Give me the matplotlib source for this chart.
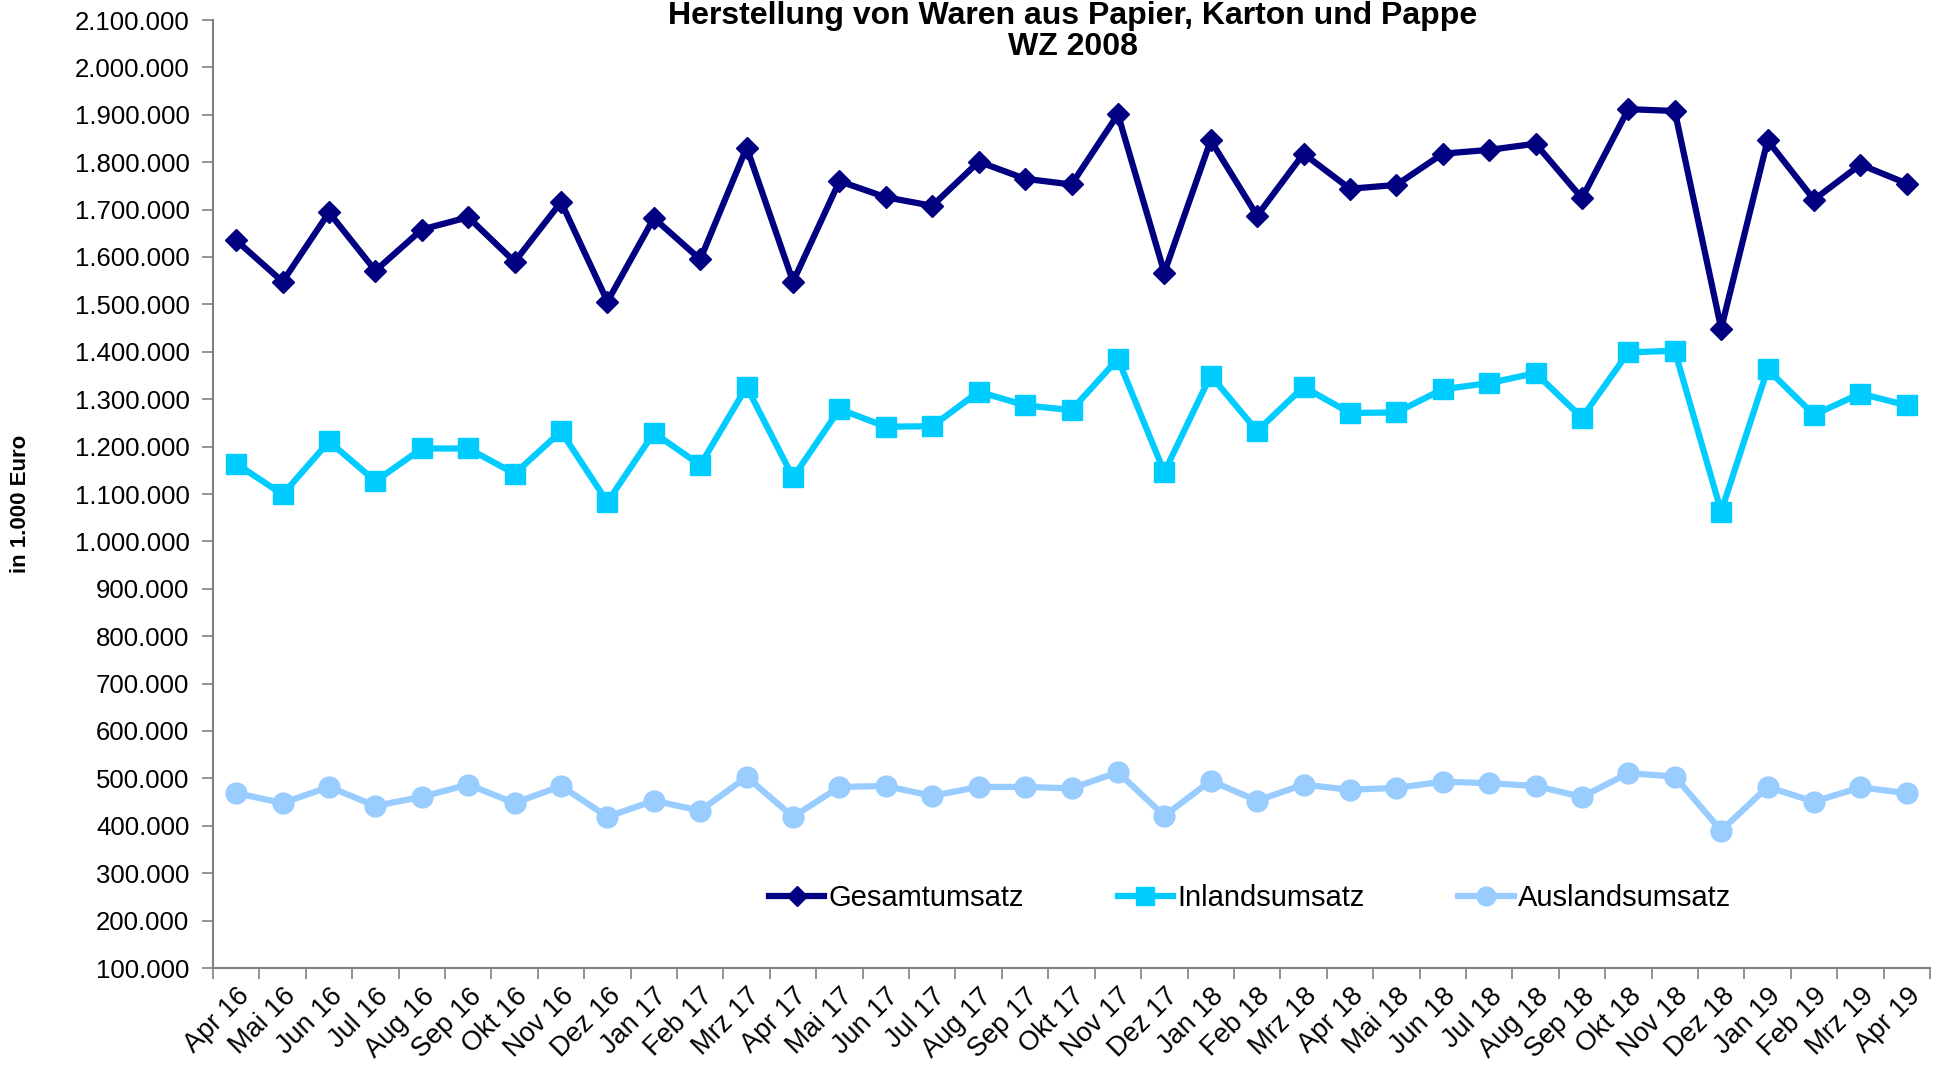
import matplotlib
matplotlib.use("Agg")
import matplotlib.pyplot as plt
from matplotlib.ticker import FuncFormatter, FixedLocator
import numpy as np

plt.rcParams['font.family'] = ['Liberation Sans', 'DejaVu Sans']

monate = ['Apr 16', 'Mai 16', 'Jun 16', 'Jul 16', 'Aug 16', 'Sep 16', 'Okt 16', 'Nov 16', 'Dez 16',
          'Jan 17', 'Feb 17', 'Mrz 17', 'Apr 17', 'Mai 17', 'Jun 17', 'Jul 17', 'Aug 17', 'Sep 17',
          'Okt 17', 'Nov 17', 'Dez 17', 'Jan 18', 'Feb 18', 'Mrz 18', 'Apr 18', 'Mai 18', 'Jun 18',
          'Jul 18', 'Aug 18', 'Sep 18', 'Okt 18', 'Nov 18', 'Dez 18', 'Jan 19', 'Feb 19', 'Mrz 19',
          'Apr 19']

gesamt = [1635000, 1548000, 1694000, 1571000, 1658000, 1684000, 1590000, 1716000, 1506000,
          1682000, 1595000, 1831000, 1548000, 1760000, 1726000, 1708000, 1801000, 1765000,
          1753000, 1901000, 1567000, 1846000, 1687000, 1818000, 1744000, 1752000, 1818000,
          1826000, 1839000, 1724000, 1912000, 1908000, 1449000, 1846000, 1721000, 1795000,
          1755000]

inland = [1164000, 1099000, 1211000, 1127000, 1196000, 1196000, 1143000, 1232000, 1083000,
          1229000, 1161000, 1326000, 1135000, 1279000, 1242000, 1243000, 1316000, 1287000,
          1277000, 1385000, 1146000, 1350000, 1233000, 1326000, 1271000, 1272000, 1321000,
          1334000, 1355000, 1261000, 1399000, 1402000, 1063000, 1363000, 1267000, 1312000,
          1287000]

ausland = [469000, 448000, 482000, 442000, 461000, 487000, 448000, 484000, 419000,
           453000, 432000, 503000, 419000, 482000, 484000, 463000, 482000, 482000,
           479000, 513000, 421000, 495000, 453000, 487000, 476000, 480000, 493000,
           490000, 484000, 461000, 511000, 504000, 390000, 482000, 451000, 481000,
           469000]

x = np.arange(len(monate))

fig = plt.figure(figsize=(19.4, 10.65), dpi=100)
ax = fig.add_axes([213 / 1940, 1 - 968 / 1065, (1930 - 213) / 1940, (968 - 20) / 1065])

ax.plot(x, gesamt, color='#000080', lw=4.5, marker='D', ms=11, label='Gesamtumsatz')
ax.plot(x, inland, color='#00CCFF', lw=4.5, marker='s', ms=15, label='Inlandsumsatz')
ax.plot(x, ausland, color='#99CCFF', lw=4.5, marker='o', ms=15, label='Auslandsumsatz')

ax.set_xlim(-0.5, len(monate) - 0.5)
ax.set_ylim(100000, 2100000)
ax.set_yticks(np.arange(100000, 2100001, 100000))
ax.yaxis.set_major_formatter(FuncFormatter(lambda v, p: f"{int(v):,}".replace(',', '.')))

ax.set_xticks(x)
ax.set_xticklabels(monate, rotation=45, ha='right', rotation_mode='anchor')
ax.xaxis.set_minor_locator(FixedLocator(np.arange(-0.5, len(monate), 1)))
ax.tick_params(axis='x', which='major', length=0, pad=11, labelsize=19.5)
ax.tick_params(axis='x', which='minor', length=8, width=1.2, color='#808080', direction='out')
ax.tick_params(axis='y', length=8, width=1.2, color='#808080', labelsize=18.5, pad=9)

for s in ['top', 'right']:
    ax.spines[s].set_visible(False)
for s in ['left', 'bottom']:
    ax.spines[s].set_color('#808080')
    ax.spines[s].set_linewidth(1.5)

ax.set_ylabel('in 1.000 Euro', fontsize=16, fontweight='bold')
ax.yaxis.set_label_coords(-0.106, 0.49)

fig.text(0.553, 1 - 55 / 1065, 'Herstellung von Waren aus Papier, Karton und Pappe\nWZ 2008',
         ha='center', va='baseline', fontsize=23, fontweight='bold', linespacing=1.05,
         multialignment='center')

ax.legend(loc='center', bbox_to_anchor=(0.604, 0.074), ncol=3, frameon=False, fontsize=21,
          handlelength=1.9, handletextpad=0.15, columnspacing=3.2, markerscale=0.9)

fig.savefig('out.png', dpi=100)
